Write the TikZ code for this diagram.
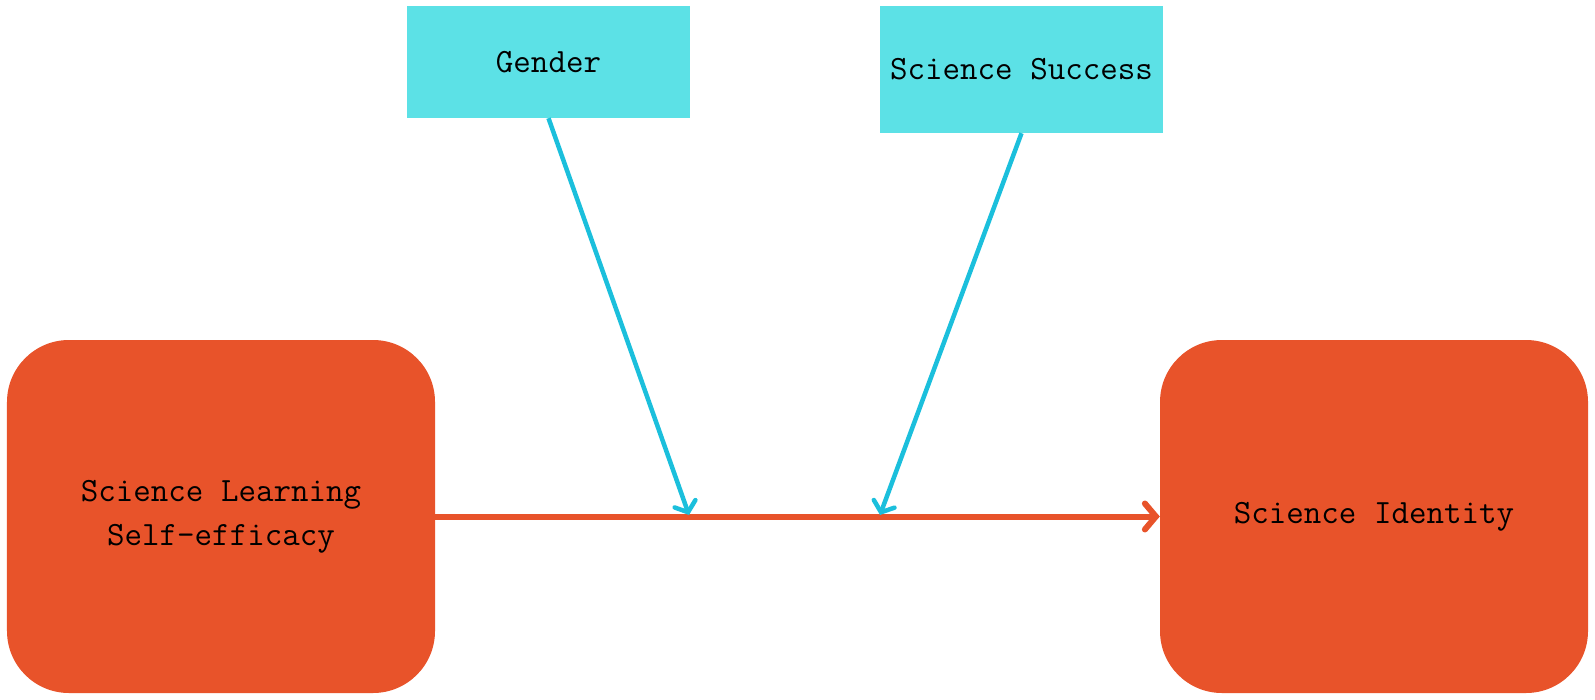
\documentclass[tikz,border=0pt]{standalone}
\usetikzlibrary{arrows.meta}
\definecolor{boxorange}{HTML}{E8532A}
\definecolor{boxcyan}{HTML}{5CE1E6}
\definecolor{linkblue}{HTML}{1BBFDC}
\begin{document}
\begin{tikzpicture}[x=1bp,y=-1bp,
  bigbox/.style={rectangle, rounded corners=62bp, fill=boxorange, draw=none,
    minimum width=428bp, minimum height=353bp, inner sep=0pt,
    font=\fontsize{34bp}{44bp}\selectfont\ttfamily, align=center},
  modbox/.style={rectangle, fill=boxcyan, draw=none, minimum width=283bp,
    inner sep=0pt, font=\fontsize{34bp}{44bp}\selectfont\ttfamily},
  mainlink/.style={draw=boxorange, line width=6bp,
    -{Straight Barb[length=11bp,width=26bp,line width=6bp,line cap=round]}},
  modlink/.style={draw=linkblue, line width=4.5bp,
    -{Straight Barb[length=9bp,width=22bp,line width=4.5bp,line cap=round]}}]
\useasboundingbox (0,0) rectangle (1595,700);
\node[bigbox] (sle) at (221,516.5) {Science Learning\\Self-efficacy};
\node[bigbox] (sid) at (1374,516.5) {Science Identity};
\node[modbox, minimum height=112bp] (gen) at (548.5,62) {Gender};
\node[modbox, minimum height=127bp] (suc) at (1021.5,69.5) {Science Success};
\coordinate (m1) at (689,515);
\coordinate (m2) at (880,515);
\draw[mainlink] (sle.east) -- (sid.west);
\draw[modlink] (gen.south) -- (m1);
\draw[modlink] (suc.south) -- (m2);
\end{tikzpicture}
\end{document}
